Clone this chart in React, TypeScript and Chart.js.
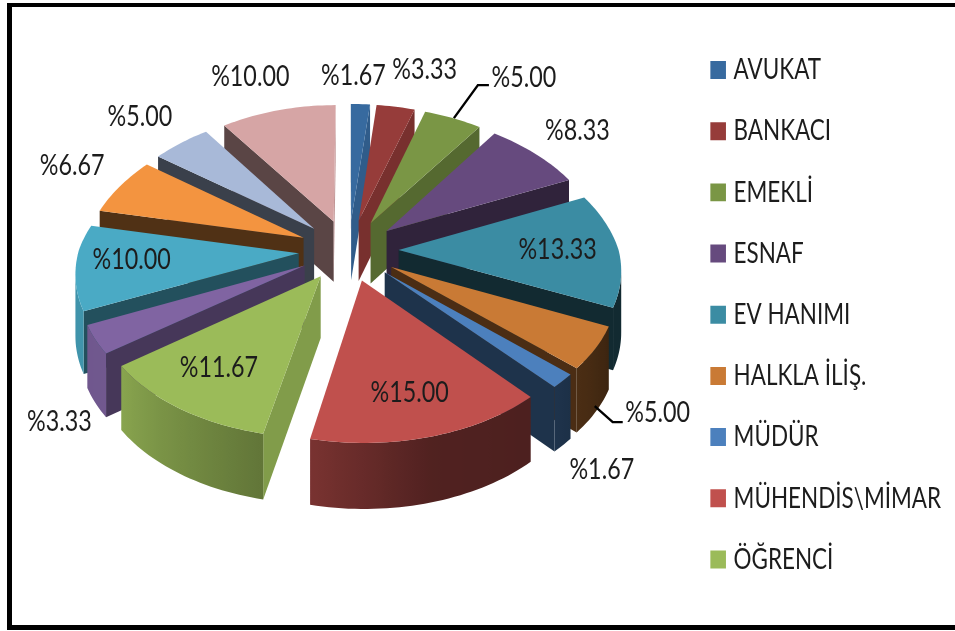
import React, { useEffect, useRef } from "react";
import { Chart, registerables } from "chart.js";

Chart.register(...registerables);

// ---- data
const categories = ["AVUKAT", "BANKACI", "EMEKLİ", "ESNAF", "EV HANIMI", "HALKLA İLİŞ.", "MÜDÜR", "MÜHENDİS\\MİMAR", "ÖĞRENCİ", "", "", "", "", ""];
const percentages = [1.67, 3.33, 5.0, 8.33, 13.33, 5.0, 1.67, 15.0, 11.67, 3.33, 10.0, 6.67, 5.0, 10.0];
const topColors = ["#376A9F", "#963C3A", "#7A9645", "#664A7E", "#3B8CA3", "#C97A35", "#4C80BD", "#C0504D", "#9BBB59", "#8064A2", "#4AAAC5", "#F39440", "#A8B9D8", "#D6A5A5"];
// label offset from the slice's outer-middle point, in pixels (style, not data)
const labelNudges = [[-7, -29], [29, -37], [71, -41], [42, -23], [-61, 0], [62, 64], [39, 89], [-21, -44], [39, -41], [-36, 82], [56, -8], [-48, -21], [-41, -26], [-28, -34]];

const FONT = "Lato, 'Open Sans', sans-serif";
const TILT = 0.614;
const PERSPECTIVE_BACK_X = 0.16;
const PERSPECTIVE_FRONT_X = 0.125;
const PERSPECTIVE_BACK_Y = 0.11;
const PERSPECTIVE_FRONT_Y = 0.12;
const DEPTH = 61;
const EXPLODE = 50;
const STRETCH_Y = 1.33;
const LEGEND_STRETCH_X = 1.04;

const radialShade: [number, number][] = [[0, 0.95], [90, 0.9], [126, 0.7], [150, 0.5], [180, 0.36], [204, 0.3], [234, 0.42], [270, 0.55], [360, 0.95]];
const outerShade: [number, number][] = [[0, 0.3], [114, 0.3], [138, 0.4], [165, 0.42], [192, 0.63], [234, 0.88], [280, 0.85], [360, 0.6]];

function lookup(table: [number, number][], a: number) {
  const d = ((a % 360) + 360) % 360;
  for (let i = 1; i < table.length; i++) {
    if (d <= table[i][0]) {
      const [a0, v0] = table[i - 1];
      const [a1, v1] = table[i];
      return v0 + ((v1 - v0) * (d - a0)) / (a1 - a0);
    }
  }
  return table[table.length - 1][1];
}

function shade(hex: string, f: number) {
  const n = parseInt(hex.slice(1), 16);
  const c = [(n >> 16) & 255, (n >> 8) & 255, n & 255].map((x) => Math.round(x * f));
  return `rgb(${c[0]},${c[1]},${c[2]})`;
}

const pie3d = {
  id: "pie3d",
  beforeDraw(chart: any) {
    const { ctx, width, height } = chart;
    ctx.save();
    ctx.fillStyle = "#fff";
    ctx.fillRect(0, 0, width, height);
    ctx.fillStyle = "#000";
    ctx.fillRect(7, 3, width - 7, 4);
    ctx.fillRect(7, 3, 5, height - 5);
    ctx.fillRect(7, 625, width - 7, 5);
    ctx.restore();
  },
  afterLayout(chart: any) {
    const legend = chart.legend;
    if (!legend || legend.__stretched) return;
    legend.__stretched = true;
    const draw = legend.draw;
    legend.draw = function (...args: any[]) {
      const hit = legend.legendHitBoxes[0];
      const c = chart.ctx;
      c.save();
      c.translate(714 - LEGEND_STRETCH_X * hit.left, 70 - STRETCH_Y * (hit.top + hit.height / 2));
      c.scale(LEGEND_STRETCH_X, STRETCH_Y);
      draw.apply(legend, args);
      c.restore();
    };
  },
  beforeDatasetDraw(chart: any, args: any) {
    const { ctx } = chart;
    const meta = chart.getDatasetMeta(args.index);
    const slices = meta.data.map((arc: any, i: number) => {
      const p = arc.getProps(["x", "y", "startAngle", "endAngle", "outerRadius"]);
      const R = p.outerRadius;
      const a0 = p.startAngle + Math.PI / 2;
      const a1 = p.endAngle + Math.PI / 2;
      const mid = (a0 + a1) / 2;
      const off = (arc.options.offset || 0) / R;
      const project = (ang: number, rho: number) => {
        const u = rho * Math.sin(ang) + off * Math.sin(mid);
        const v = -rho * Math.cos(ang) - off * Math.cos(mid);
        const sx = 1 / (1 - (v < 0 ? PERSPECTIVE_BACK_X : PERSPECTIVE_FRONT_X) * v);
        const s = 1 / (1 - (v < 0 ? PERSPECTIVE_BACK_Y : PERSPECTIVE_FRONT_Y) * v);
        return { x: p.x + R * u * sx, y: p.y + R * TILT * v * s, s, ang };
      };
      return { i, a0, a1, mid, project, color: arc.options.backgroundColor };
    });
    const order = [...slices].sort((a: any, b: any) => -Math.cos(a.mid) - -Math.cos(b.mid));
    const deg = 180 / Math.PI;
    const drop = (q: any) => DEPTH * Math.sqrt(q.s);
    const wall = (list: any[], fill: any) => {
      ctx.fillStyle = fill;
      ctx.beginPath();
      list.forEach((q, k) => (k ? ctx.lineTo(q.x, q.y) : ctx.moveTo(q.x, q.y)));
      for (let k = list.length - 1; k >= 0; k--) ctx.lineTo(list[k].x, list[k].y + drop(list[k]));
      ctx.closePath();
      ctx.fill();
    };
    ctx.save();
    for (const sl of order) {
      const steps = Math.max(4, Math.ceil((sl.a1 - sl.a0) * 40));
      const tip = sl.project(sl.a0, 0);
      const rim: any[] = [];
      for (let k = 0; k <= steps; k++) rim.push(sl.project(sl.a0 + ((sl.a1 - sl.a0) * k) / steps, 1));
      const first = rim[0];
      const last = rim[rim.length - 1];
      // radial walls: clockwise outline, an edge running leftwards faces the viewer
      if (first.x < tip.x) wall([tip, first], shade(sl.color, lookup(radialShade, sl.a0 * deg - 90)));
      if (tip.x < last.x) wall([last, tip], shade(sl.color, lookup(radialShade, sl.a1 * deg + 90)));
      // outer wall, one continuous polygon for each visible run of the rim
      let run: any[] = [];
      const flush = () => {
        if (run.length > 1) {
          const x0 = run[0].x;
          const x1 = run[run.length - 1].x;
          const g = ctx.createLinearGradient(x0, 0, x1, 0);
          run.forEach((q) => g.addColorStop(Math.min(1, Math.max(0, (q.x - x0) / (x1 - x0))), shade(sl.color, lookup(outerShade, q.ang * deg))));
          wall(run, g);
        }
        run = [];
      };
      for (let k = 0; k < rim.length - 1; k++) {
        if (rim[k + 1].x < rim[k].x) {
          if (!run.length) run.push(rim[k]);
          run.push(rim[k + 1]);
        } else flush();
      }
      flush();
      ctx.fillStyle = sl.color;
      ctx.beginPath();
      ctx.moveTo(tip.x, tip.y);
      rim.forEach((q) => ctx.lineTo(q.x, q.y));
      ctx.closePath();
      ctx.fill();
    }
    // leader lines
    const outerMid = (i: number) => slices[i].project(slices[i].mid, 1);
    ctx.strokeStyle = "#000";
    ctx.lineWidth = 2.4;
    const em = outerMid(2);
    ctx.beginPath();
    ctx.moveTo(em.x + 1, em.y);
    ctx.lineTo(em.x + 25, em.y - 33);
    ctx.lineTo(em.x + 36, em.y - 33);
    ctx.stroke();
    const ha = outerMid(5);
    ctx.beginPath();
    ctx.moveTo(ha.x - 1, ha.y + 58);
    ctx.lineTo(ha.x + 17, ha.y + 74);
    ctx.lineTo(ha.x + 27, ha.y + 74);
    ctx.stroke();
    // value labels
    ctx.fillStyle = "#1c1c1c";
    ctx.font = `22px ${FONT}`;
    ctx.textAlign = "center";
    ctx.textBaseline = "middle";
    slices.forEach((sl: any) => {
      const q = sl.project(sl.mid, 1);
      const [dx, dy] = labelNudges[sl.i];
      ctx.save();
      ctx.translate(q.x + dx, q.y + dy);
      ctx.scale(1.06, STRETCH_Y);
      ctx.fillText("%" + percentages[sl.i].toFixed(2), 0, 0);
      ctx.restore();
    });
    ctx.restore();
    return false;
  },
};

export default function App() {
  const ref = useRef<HTMLCanvasElement>(null);
  useEffect(() => {
    const chart = new Chart(ref.current as HTMLCanvasElement, {
      type: "pie",
      data: {
        labels: categories,
        datasets: [
          {
            data: percentages,
            backgroundColor: topColors,
            borderWidth: 0,
            offset: EXPLODE,
            radius: 220,
          } as any,
        ],
      },
      options: {
        animation: false,
        responsive: false,
        layout: { padding: { left: 0, top: 0, bottom: 131, right: 5 } },
        plugins: {
          tooltip: { enabled: false },
          title: { display: false },
          legend: {
            position: "right",
            labels: {
              font: { family: FONT, size: 21.6 },
              color: "#1c1c1c",
              boxWidth: 8,
              boxHeight: 6.5,
              padding: 24.4,
              filter: (item: any) => item.text !== "",
              generateLabels: (c: any) =>
                (Chart as any).overrides.doughnut.plugins.legend.labels
                  .generateLabels(c)
                  .map((it: any) => ({ ...it, strokeStyle: it.fillStyle, lineWidth: 7 })),
            },
          },
        },
      },
      plugins: [pie3d as any],
    });
    return () => chart.destroy();
  }, []);
  return (
    <div style={{ position: "fixed", left: 0, top: 0, width: 955, height: 631, overflow: "hidden" }}>
      <canvas ref={ref} width={955} height={631} style={{ display: "block" }} />
    </div>
  );
}
